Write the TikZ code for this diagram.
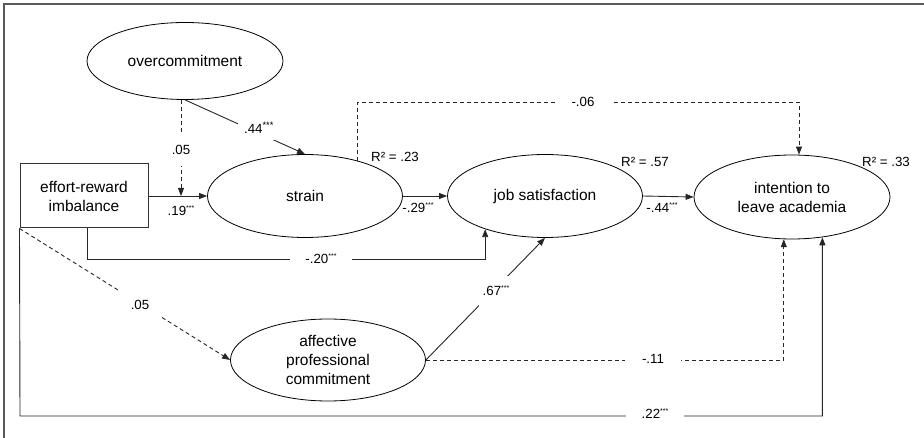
\documentclass[tikz,border=0pt]{standalone}
\usepackage{fontspec}
\setmainfont{Liberation Sans}
\usetikzlibrary{shapes.geometric,arrows.meta,calc}
\newcommand\sigst{\raisebox{5pt}{\fontsize{7}{7}\selectfont ***}}
\begin{document}
\begin{tikzpicture}[x=1pt,y=-1pt,
  lbl/.style={font=\fontsize{13.3}{16}\selectfont, inner sep=0pt},
  gap/.style={lbl, fill=white},
  ell/.style={draw, ellipse, inner sep=0pt, align=center, font=\fontsize{15.5}{19}\selectfont, line width=0.8pt},
  conn/.style={line width=0.9pt, black!85, -{Triangle[length=8pt,width=6pt]}},
  plain/.style={line width=0.9pt, black!85},
  dsh/.style={dash pattern=on 4pt off 3pt}
]
\useasboundingbox (0,0) rectangle (924,438);
\draw[line width=1.5pt, gray!70!black] (4,438) -- (4,4) -- (924,4);

% nodes
\node[ell, minimum width=196pt, minimum height=77pt] (oc) at (185,61) {overcommitment};
\node[draw, line width=1pt, gray!40!black, text=black, minimum width=128pt, minimum height=64pt, inner sep=0pt, align=center, font=\fontsize{15.5}{19}\selectfont] (eri) at (84,196) {effort-reward\\imbalance};
\node[ell, minimum width=195pt, minimum height=83pt] (strain) at (305,196) {strain};
\node[ell, minimum width=195pt, minimum height=83pt] (js) at (545,196) {job satisfaction};
\node[ell, minimum width=196pt, minimum height=84pt] (itl) at (792,197) {intention to\\leave academia};
\node[ell, minimum width=195pt, minimum height=82pt] (apc) at (328,360) {affective\\professional\\commitment};

% helper coordinates
\coordinate (m1) at (181,196);
\coordinate (t1) at (357,102);
\coordinate (t2) at (799,102);
\coordinate (p1) at (87,259);
\coordinate (p2) at (20,416);

% connectors
\draw[conn] (eri.east) -- (strain.west);
\draw[conn] (strain.east) -- (js.west);
\draw[conn] (js.east) -- (itl.west);
\draw[conn, dsh] (oc.south -| m1) -- (m1);
\draw[conn] (oc.south) -- (strain.north);
\draw[conn, dsh] (strain.34) -- (strain.34 |- t1) -- (t2) -- (t2 |- itl.north);
\draw[conn] (eri.south -| p1) -- (p1) -| (js.209);
\draw[conn, dsh] (eri.south west) -- (apc.west);
\draw[conn] (apc.east) -- (js.south);
\draw[conn, dsh] (apc.east) -| (itl.259);
\draw[conn] (eri.south west) -- (p2) -| (itl.307);

% labels
\node[gap, inner ysep=11pt, inner xsep=2pt] (l1) at (181,150) {.05};
\node[gap, inner xsep=6pt, inner ysep=6pt] (l2) at (259,128) {.44\textsuperscript{***}};
\node[lbl] (l3) at (181,211) {.19\sigst};
\node[lbl] (l4) at (418,208) {-.29\sigst};
\node[lbl] (l5) at (662,208) {-.44\sigst};
\node[lbl, anchor=west] (r1) at (371,157) {R² = .23};
\node[lbl, anchor=west] (r2) at (621,162) {R² = .57};
\node[lbl, anchor=west] (r3) at (862,162) {R² = .33};
\node[gap, inner xsep=17pt, inner ysep=3pt] (l6) at (583,102) {-.06};
\node[gap, inner xsep=15pt, inner ysep=3pt] (l7) at (321,259) {-.20\sigst};
\node[gap, inner xsep=12pt, inner ysep=12pt] (l8) at (140,305) {.05};
\node[gap, inner xsep=4pt, inner ysep=10pt] (l9) at (496,291) {.67\sigst};
\node[gap, inner xsep=17pt, inner ysep=3pt] (l10) at (653,359) {-.11};
\node[gap, inner xsep=16pt, inner ysep=3pt] (l11) at (655,414) {.22\sigst};
\end{tikzpicture}
\end{document}
